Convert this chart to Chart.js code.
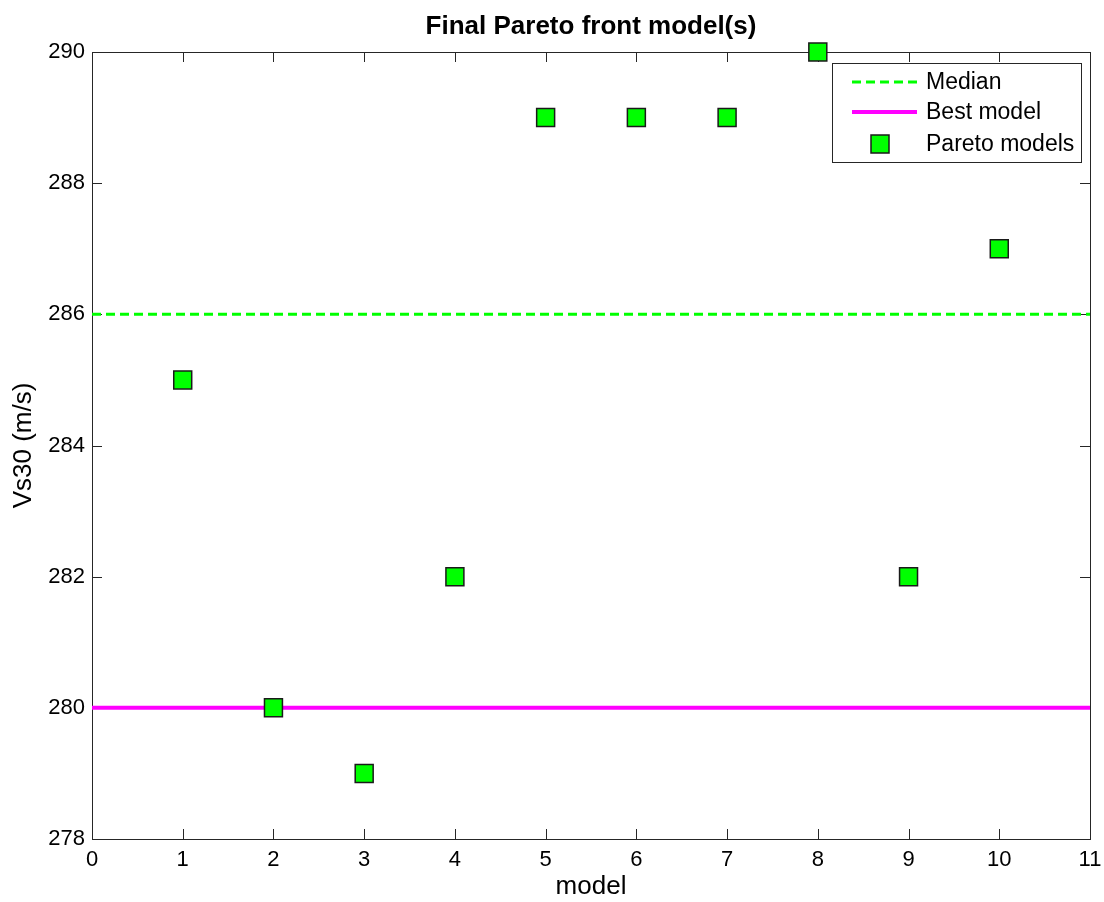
<!DOCTYPE html>
<html>
<head>
<meta charset="utf-8">
<script src="https://cdn.jsdelivr.net/npm/chart.js@4.4.1/dist/chart.umd.min.js"></script>
<style>
  html, body { margin: 0; padding: 0; background: #fff; }
  #wrap { width: 1104px; height: 902px; }
  canvas { display: block; }
</style>
</head>
<body>
<div id="wrap"><canvas id="chart" width="1104" height="902"></canvas></div>
<script>
const modelIds = [1, 2, 3, 4, 5, 6, 7, 8, 9, 10];
const vs30Values = [285, 280, 279, 282, 289, 289, 289, 290, 282, 287];
const medianValue = 286;
const bestValue = 280;
const xRange = [0, 11];
const yRange = [278, 290];

const FONT = 'Arial, "Liberation Sans", sans-serif';

// matlab-ish box with inward ticks + title + legend
const matlabAxes = {
    id: 'matlabAxes',
    beforeDatasetsDraw(chart) {
        const ctx = chart.ctx, a = chart.chartArea;
        const xs = chart.scales.x, ys = chart.scales.y;
        ctx.save();
        ctx.strokeStyle = '#262626';
        ctx.lineWidth = 1;
        ctx.beginPath();
        xs.ticks.forEach(t => {
            const px = Math.round(xs.getPixelForValue(t.value)) + 0.5;
            ctx.moveTo(px, a.bottom); ctx.lineTo(px, a.bottom - 10);
            ctx.moveTo(px, a.top); ctx.lineTo(px, a.top + 10);
        });
        ys.ticks.forEach(t => {
            const py = Math.round(ys.getPixelForValue(t.value)) + 0.5;
            ctx.moveTo(a.left, py); ctx.lineTo(a.left + 10, py);
            ctx.moveTo(a.right, py); ctx.lineTo(a.right - 10, py);
        });
        ctx.stroke();
        ctx.strokeRect(Math.round(a.left) + 0.5, Math.round(a.top) + 0.5,
            Math.round(a.right - a.left), Math.round(a.bottom - a.top));
        ctx.restore();
    },
    afterDraw(chart) {
        const ctx = chart.ctx, a = chart.chartArea;
        ctx.save();
        ctx.fillStyle = '#000';
        ctx.font = 'bold 26px ' + FONT;
        ctx.textAlign = 'center';
        ctx.textBaseline = 'middle';
        ctx.fillText('Final Pareto front model(s)', (a.left + a.right) / 2, 27);

        // legend
        const bx = 832, by = 63, bw = 249, bh = 99;
        ctx.fillStyle = '#fff';
        ctx.fillRect(bx, by, bw, bh);
        ctx.strokeStyle = '#262626';
        ctx.lineWidth = 1;
        ctx.strokeRect(bx + 0.5, by + 0.5, bw, bh);
        const rows = [82, 112, 144];
        ctx.font = '23px ' + FONT;
        ctx.textAlign = 'left';
        chart.data.datasets.forEach((ds, i) => {
            const y = rows[i];
            if (ds.showLine === false) {
                ctx.fillStyle = ds.backgroundColor;
                ctx.strokeStyle = ds.borderColor;
                ctx.lineWidth = ds.borderWidth;
                ctx.fillRect(871, y - 9, 18, 18);
                ctx.strokeRect(871, y - 9, 18, 18);
            } else {
                ctx.strokeStyle = ds.borderColor;
                ctx.lineWidth = ds.borderWidth;
                ctx.setLineDash(ds.borderDash || []);
                ctx.beginPath();
                ctx.moveTo(852, y); ctx.lineTo(917, y);
                ctx.stroke();
                ctx.setLineDash([]);
            }
            ctx.fillStyle = '#000';
            ctx.fillText(ds.label, 926, y + 1);
        });
        ctx.restore();
    }
};

new Chart(document.getElementById('chart'), {
    type: 'scatter',
    data: {
        datasets: [
            {
                label: 'Median',
                type: 'line',
                data: xRange.map(x => ({ x: x, y: medianValue })),
                borderColor: '#00ff00',
                borderWidth: 3,
                borderDash: [9, 5],
                pointRadius: 0,
                order: 3
            },
            {
                label: 'Best model',
                type: 'line',
                data: xRange.map(x => ({ x: x, y: bestValue })),
                borderColor: '#ff00ff',
                borderWidth: 4,
                pointRadius: 0,
                order: 2
            },
            {
                label: 'Pareto models',
                data: modelIds.map((m, i) => ({ x: m, y: vs30Values[i] })),
                showLine: false,
                pointStyle: 'rect',
                pointRadius: 12.7,
                backgroundColor: '#00ff00',
                borderColor: '#1a1a1a',
                borderWidth: 1.5,
                order: 1,
                clip: false
            }
        ]
    },
    options: {
        responsive: false,
        animation: false,
        events: [],
        layout: { autoPadding: false, padding: { top: 52, right: 14, left: 0, bottom: 0 } },
        plugins: {
            legend: { display: false },
            title: { display: false },
            tooltip: { enabled: false }
        },
        scales: {
            x: {
                type: 'linear',
                min: xRange[0], max: xRange[1],
                ticks: { stepSize: 1, color: '#000', font: { family: FONT, size: 22 }, padding: 8, maxRotation: 0 },
                grid: { display: false, drawTicks: false },
                border: { display: false },
                title: { display: true, text: 'model', color: '#000', font: { family: FONT, size: 26 }, padding: { top: 0, bottom: 0 } },
                afterFit(scale) {
                    scale.height = 63;
                    scale.paddingLeft = 0;
                    scale.paddingRight = 0;
                }
            },
            y: {
                type: 'linear',
                min: yRange[0], max: yRange[1],
                ticks: { stepSize: 2, color: '#000', font: { family: FONT, size: 22 }, padding: 7 },
                grid: { display: false, drawTicks: false },
                border: { display: false },
                title: { display: true, text: 'Vs30 (m/s)', color: '#000', font: { family: FONT, size: 26 }, padding: { top: 8, bottom: 0 } },
                afterFit(scale) {
                    scale.width = 92;
                    scale.paddingTop = 0;
                    scale.paddingBottom = 0;
                }
            }
        }
    },
    plugins: [matlabAxes]
});
</script>
</body>
</html>
